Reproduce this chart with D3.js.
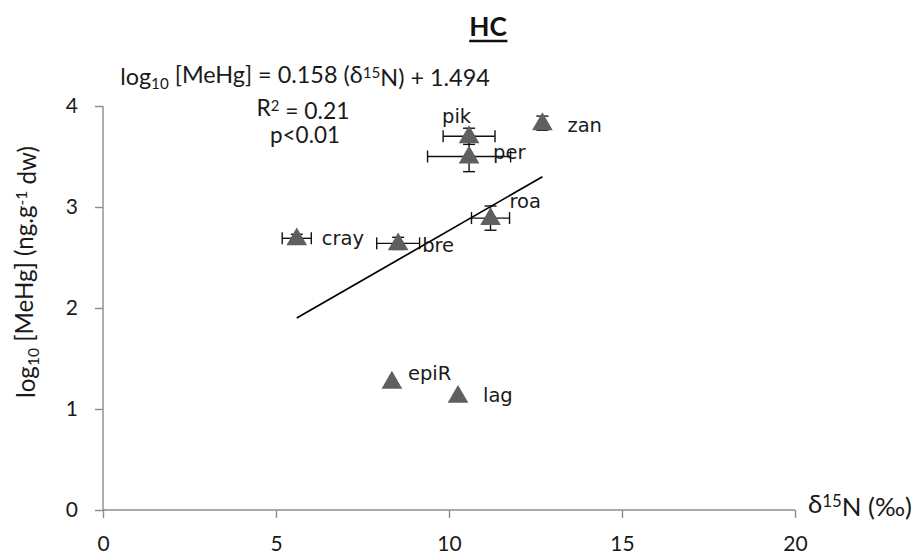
<!DOCTYPE html>
<html><head><meta charset="utf-8">
<script src="https://cdn.jsdelivr.net/npm/d3@7"></script>
<style>body{margin:0;background:#fff}</style>
</head><body>
<svg id="c" width="915" height="555"></svg>
<script>
const species = ["cray","bre","epiR","lag","roa","pik","per","zan"];
const d15N    = [5.6, 8.53, 8.35, 10.26, 11.2, 10.58, 10.58, 12.7];
const logMeHg = [2.69, 2.64, 1.27, 1.13, 2.89, 3.70, 3.50, 3.83];
const xErr    = [0.42, 0.62, 0, 0, 0.55, 0.75, 1.2, 0];
const yErr    = [0.04, 0.06, 0, 0, 0.12, 0.08, 0.15, 0.07];
const fitX = [5.6, 12.7];
const fitY = [1.9, 3.3];
const xTicks = [0,5,10,15,20];
const yTicks = [0,1,2,3,4];

const svg = d3.select("#c");
const x = d3.scaleLinear().domain([0,20]).range([103,795]);
const y = d3.scaleLinear().domain([0,4]).range([510,106]);
const axisCol = "#8c8c8c";
const lblFont = "Lato, 'Open Sans', sans-serif";
const txtCol = "#1a1a1a";

// fit a text element to a target width by scaling its font-size
function fitWidth(sel, target){
  const fs = parseFloat(sel.attr("font-size"));
  const w = sel.node().getBBox().width;
  sel.attr("font-size", fs*target/w);
}
function fitHeight(sel, target){
  const fs = parseFloat(sel.attr("font-size"));
  const h = sel.node().getBBox().width; // rotated text: length along baseline
  sel.attr("font-size", fs*target/h);
}

// axes
const xa = svg.append("g").attr("transform","translate(0,510)")
  .call(d3.axisBottom(x).tickValues(xTicks).tickSize(8).tickFormat(d3.format("d")));
const ya = svg.append("g").attr("transform","translate(103,0)")
  .call(d3.axisLeft(y).tickValues(yTicks).tickSize(8).tickPadding(17).tickFormat(d3.format("d")));
[xa,ya].forEach(g=>{
  g.select(".domain").attr("stroke",axisCol).attr("stroke-width",1.4);
  g.selectAll(".tick line").attr("stroke",axisCol).attr("stroke-width",1.4);
  g.selectAll(".tick text").attr("font-family",lblFont).attr("font-size",21).attr("fill",txtCol);
});
xa.select(".domain").attr("d","M103,0H795");
ya.select(".domain").attr("d","M0,510V106");
xa.selectAll(".tick text").attr("y",41).attr("dy",0);

// error bars
const pts = species.map((s,i)=>({s, x:d15N[i], y:logMeHg[i], ex:xErr[i], ey:yErr[i]}));
const eb = svg.append("g").attr("stroke","#111").attr("stroke-width",1.4);
pts.forEach(p=>{
  if(p.ex>0){
    const x0=x(p.x-p.ex), x1=x(p.x+p.ex), yy=y(p.y);
    eb.append("line").attr("x1",x0).attr("x2",x1).attr("y1",yy).attr("y2",yy);
    eb.append("line").attr("x1",x0).attr("x2",x0).attr("y1",yy-6).attr("y2",yy+6);
    eb.append("line").attr("x1",x1).attr("x2",x1).attr("y1",yy-6).attr("y2",yy+6);
  }
  if(p.ey>0){
    const y0=y(p.y-p.ey), y1=y(p.y+p.ey), xx=x(p.x);
    eb.append("line").attr("x1",xx).attr("x2",xx).attr("y1",y0).attr("y2",y1);
    eb.append("line").attr("x1",xx-6).attr("x2",xx+6).attr("y1",y0).attr("y2",y0);
    eb.append("line").attr("x1",xx-6).attr("x2",xx+6).attr("y1",y1).attr("y2",y1);
  }
});

// regression line
svg.append("line").attr("x1",x(fitX[0])).attr("y1",y(fitY[0]))
  .attr("x2",x(fitX[1])).attr("y2",y(fitY[1]))
  .attr("stroke","#000").attr("stroke-width",1.7);

// triangles
const tri = d3.symbol().type(d3.symbolTriangle).size(185);
svg.append("g").selectAll("path").data(pts).join("path")
  .attr("d",tri).attr("fill","#5f5f5f")
  .attr("transform",d=>`translate(${x(d.x)},${y(d.y)+1})`);

// point labels
const labOff = {cray:[25,7], bre:[24,9], epiR:[16,-2], lag:[25,6], roa:[19,-10], pik:[-27,-13], per:[24,2], zan:[25,9]};
svg.append("g").selectAll("text").data(pts).join("text")
  .attr("x",d=>x(d.x)+labOff[d.s][0]).attr("y",d=>y(d.y)+labOff[d.s][1])
  .attr("font-family","'DejaVu Sans', sans-serif").attr("font-size",19.5).attr("fill",txtCol)
  .text(d=>d.s);

// title
const t = svg.append("text").attr("x",488).attr("y",36).attr("text-anchor","middle")
  .attr("font-family",lblFont).attr("font-weight","bold").attr("font-size",28)
  .attr("fill","#111").text("HC");
fitWidth(t, 38);
const tb = t.node().getBBox();
svg.append("line").attr("x1",tb.x).attr("x2",tb.x+tb.width).attr("y1",41).attr("y2",41)
  .attr("stroke","#111").attr("stroke-width",2.4);

// equation
const eq = svg.append("text").attr("x",305).attr("y",85).attr("text-anchor","middle")
  .attr("font-family",lblFont).attr("font-size",22).attr("fill",txtCol);
eq.append("tspan").text("log");
eq.append("tspan").attr("font-size","65%").attr("dy","0.25em").text("10");
eq.append("tspan").attr("dy","-0.25em").text(" [MeHg] = 0.158 (δ");
eq.append("tspan").attr("font-size","65%").attr("dy","-0.35em").text("15");
eq.append("tspan").attr("dy","0.35em").text("N) + 1.494");
fitWidth(eq, 370);

const r2 = svg.append("text").attr("x",303).attr("y",116).attr("text-anchor","middle")
  .attr("font-family",lblFont).attr("font-size",22).attr("fill",txtCol);
r2.append("tspan").text("R");
r2.append("tspan").attr("font-size","65%").attr("dy","-0.35em").text("2");
r2.append("tspan").attr("dy","0.35em").text(" = 0.21");
fitWidth(r2, 93);
const pv = svg.append("text").attr("x",305).attr("y",143).attr("text-anchor","middle")
  .attr("font-family",lblFont).attr("font-size",22).attr("fill",txtCol).text("p<0.01");
fitWidth(pv, 70);

// y label
const yl = svg.append("text").attr("transform","translate(35,272) rotate(-90)")
  .attr("text-anchor","middle").attr("font-family",lblFont).attr("font-size",20).attr("fill",txtCol);
yl.append("tspan").text("log");
yl.append("tspan").attr("font-size","65%").attr("dy","0.25em").text("10");
yl.append("tspan").attr("dy","-0.25em").text(" [MeHg] (ng.g");
yl.append("tspan").attr("font-size","65%").attr("dy","-0.35em").text("-1");
yl.append("tspan").attr("dy","0.35em").text(" dw)");
fitHeight(yl, 252);

// x label
const xl = svg.append("text").attr("x",808).attr("y",513)
  .attr("font-family",lblFont).attr("font-size",22).attr("fill",txtCol);
xl.append("tspan").text("δ");
xl.append("tspan").attr("font-size","65%").attr("dy","-0.35em").text("15");
xl.append("tspan").attr("dy","0.35em").text("N (‰)");
fitWidth(xl, 104);
</script>
</body></html>
